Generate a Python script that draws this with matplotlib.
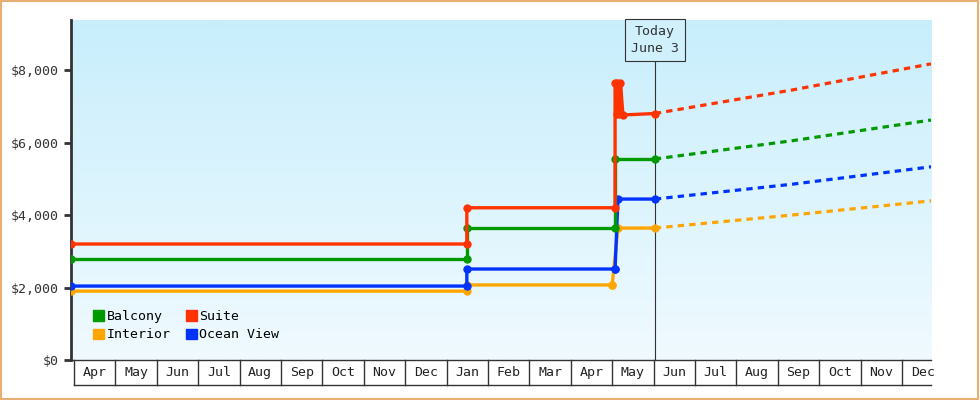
import matplotlib
matplotlib.use("Agg")
import matplotlib.pyplot as plt
import numpy as np
from matplotlib.patches import Rectangle, Patch
import matplotlib.transforms as mtrans
from matplotlib.colors import LinearSegmentedColormap

months = ["Apr","May","Jun","Jul","Aug","Sep","Oct","Nov","Dec","Jan","Feb","Mar","Apr","May","Jun","Jul","Aug","Sep","Oct","Nov","Dec"]
# x in month units from first Apr
suite_x = [-0.07, 9.49, 9.49, 13.07, 13.07, 13.12, 13.12, 13.2, 13.2, 13.26, 14.03]
suite_y = [3200, 3200, 4200, 4200, 7650, 7650, 6800, 6800, 7650, 6760, 6800]
balc_x = [-0.07, 9.49, 9.49, 13.07, 13.07, 14.03]
balc_y = [2800, 2800, 3650, 3650, 5545, 5545]
ocean_x = [-0.07, 9.49, 9.49, 13.07, 13.07, 13.14, 14.03]
ocean_y = [2040, 2040, 2510, 2510, 2510, 4440, 4440]
inter_x = [-0.07, 9.49, 9.49, 13.0, 13.0, 13.14, 14.03]
inter_y = [1900, 1900, 2070, 2070, 2070, 3640, 3640]
fut_x = [14.03, 17.35, 20.7]
suite_f = [6800, 7450, 8170]
balc_f = [5545, 6050, 6620]
ocean_f = [4440, 4850, 5330]
inter_f = [3640, 4000, 4390]
today_x = 14.03

cols = {"Balcony":"#009900","Suite":"#ff3300","Interior":"#ffa500","Ocean View":"#0033ff"}

fig = plt.figure(figsize=(9.8,4.0), dpi=100)
fig.patch.set_facecolor("white")
fig.add_artist(Rectangle((0.001,0.002),0.997,0.995,transform=fig.transFigure,fill=False,ec="#e8b070",lw=1.5))
ax = fig.add_axes([71/980, 40/400, 860/980, 340/400])
xmin, xmax, ymin, ymax = -0.07, 20.7, 0, 9380
ax.set_xlim(xmin,xmax); ax.set_ylim(ymin,ymax)
grad = np.linspace(0,1,256).reshape(-1,1)
cm = LinearSegmentedColormap.from_list("g",["#f0faff","#c8eefc"])
ax.imshow(grad, cmap=cm, aspect="auto", extent=[xmin,xmax,ymin,ymax], origin="lower", zorder=0)

mono = "DejaVu Sans Mono"
def draw(x,y,fx,fy,c):
    ax.plot(x,y,color=c,lw=2.4,marker="o",ms=5,zorder=3)
    ax.plot(fx,fy,color=c,lw=2.3,ls=(0,(2,1.6)),zorder=3)
draw(inter_x,inter_y,fut_x,inter_f,cols["Interior"])
draw(ocean_x,ocean_y,fut_x,ocean_f,cols["Ocean View"])
draw(balc_x,balc_y,fut_x,balc_f,cols["Balcony"])
draw(suite_x,suite_y,fut_x,suite_f,cols["Suite"])

ax.plot([today_x,today_x],[0,8600], color="#333333", lw=0.8, zorder=2)
ax.text(today_x, 8830, "Today\nJune 3", ha="center", va="center", fontsize=9.5, family=mono, color="#333",
        linespacing=1.4, bbox=dict(boxstyle="square,pad=0.45", fc="#d0f0fc", ec="#333333", lw=0.8), zorder=5)

for s in ["top","right"]: ax.spines[s].set_visible(False)
ax.spines["left"].set_color("#333"); ax.spines["left"].set_linewidth(2)
ax.spines["bottom"].set_color("#333"); ax.spines["bottom"].set_linewidth(1)
ax.set_yticks([0,2000,4000,6000,8000])
ax.set_yticklabels(["$0","$2,000","$4,000","$6,000","$8,000"], family=mono, fontsize=9.5, color="#333")
ax.tick_params(axis="y", length=5, width=2, color="#333")
ax.set_xticks([])

tr = mtrans.blended_transform_factory(ax.transData, ax.transAxes)
h = 25/340
for i,m in enumerate(months):
    ax.text(i+0.5, -h/2, m, transform=tr, ha="center", va="center", family=mono, fontsize=9.5, color="#222", clip_on=False)
    ax.plot([i,i],[0,-h],transform=tr,color="#333",lw=1,clip_on=False)
ax.plot([0,xmax],[-h,-h],transform=tr,color="#333",lw=1,clip_on=False)

handles = [Patch(color=cols[k]) for k in ["Balcony","Interior","Suite","Ocean View"]]
ax.legend(handles,["Balcony","Interior","Suite","Ocean View"], ncol=2, loc="lower left", bbox_to_anchor=(0.012,0.02),
          frameon=False, prop={"family":mono,"size":9.5}, handlelength=0.8, handleheight=0.8, handletextpad=0.2,
          columnspacing=1.2, labelspacing=0.4)
fig.savefig("out.png", dpi=100)
